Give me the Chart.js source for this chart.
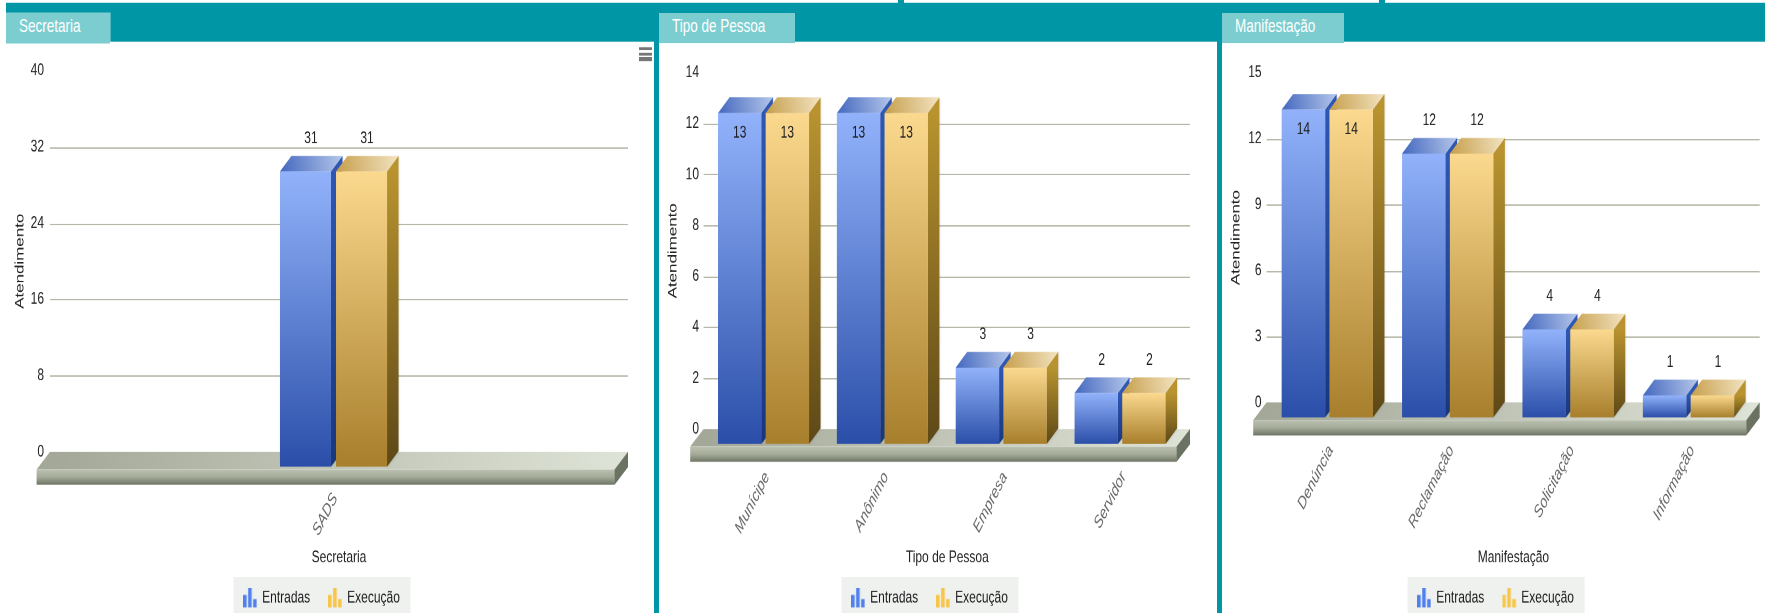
<!DOCTYPE html>
<html>
<head>
<meta charset="utf-8">
<title>Atendimentos</title>
<script src="https://cdn.jsdelivr.net/npm/chart.js@4"></script>
<style>
  html, body { margin:0; padding:0; background:#fff; overflow:hidden; }
  /* the original screenshot is stretched vertically, so the whole page is too */
  #root { position:absolute; left:0; top:0; width:1765px; height:441px; overflow:hidden;
          background:#fff; transform:scaleY(1.39); transform-origin:0 0;
          font-family:"Liberation Sans",Arial,sans-serif; }
  .teal { position:absolute; background:#0096a6; }
  .tab  { position:absolute; top:8.6px; height:22.4px; line-height:20px; background:#7ccdd0;
          color:#fff; font-size:13.5px; box-sizing:border-box; padding-left:13px; z-index:2; }
  canvas { position:absolute; top:30px; }
  .menu { position:absolute; left:639px; width:12.5px; height:2.2px; background:#777; z-index:2; }
</style>
</head>
<body>
<div id="root">
  <div class="teal" style="left:6px;top:2px;width:1759px;height:27.5px"></div>
  <div class="teal" style="left:898px;top:0;width:6px;height:3px"></div>
  <div class="teal" style="left:1379px;top:0;width:6px;height:3px"></div>
  <div class="teal" style="left:654px;top:29px;width:5px;height:412px"></div>
  <div class="teal" style="left:1217px;top:29px;width:5px;height:412px"></div>
  <div class="tab" style="left:6px;width:104px">Secretaria</div>
  <div class="tab" style="left:659px;width:136px">Tipo de Pessoa</div>
  <div class="tab" style="left:1222px;width:122px">Manifestação</div>
  <div class="menu" style="top:33.6px"></div>
  <div class="menu" style="top:37.5px"></div>
  <div class="menu" style="top:41.4px"></div>
  <canvas id="c1" style="left:0"></canvas>
  <canvas id="c2" style="left:659px"></canvas>
  <canvas id="c3" style="left:1222px"></canvas>
</div>

<script>
// ── DADOS ─────────────────────────────────────────────
var secretariaCats     = ['SADS'];
var secretariaEntradas = [31];
var secretariaExecucao = [31];
var secretariaMax = 40, secretariaStep = 8;

var pessoaCats     = ['Munícipe', 'Anônimo', 'Empresa', 'Servidor'];
var pessoaEntradas = [13, 13, 3, 2];
var pessoaExecucao = [13, 13, 3, 2];
var pessoaMax = 14, pessoaStep = 2;

var manifestCats     = ['Denúncia', 'Reclamação', 'Solicitação', 'Informação'];
var manifestEntradas = [14, 12, 4, 1];
var manifestExecucao = [14, 12, 4, 1];
var manifestMax = 15, manifestStep = 3;

var seriesNames = ['Entradas', 'Execução'];

// ── ESTILO ────────────────────────────────────────────
var FONT = '"Liberation Sans",Arial,sans-serif';
var COLORS = [
  { front:['#92b3fb','#2b4fa9'], side:['#2f57b4','#1a377c'], top:['#4468bf','#b4c6ea'], icon:'#4f80ee' },
  { front:['#fbd98e','#a87f2c'], side:['#b8932f','#5d4817'], top:['#c79f4c','#f3e4c2'], icon:'#f7c548' }
];
var BAR_DX = -5.5, BAR_DY = 10.8;        // front plane relative to the back plane
var DEPTH_X = 11.5, DEPTH_Y = 11.3;
var FLOOR_DX = 13.4, FLOOR_DY = 12.7, FLOOR_H = 11;
var CANVAS_H = 416.4;

function barIcon(color) {
  var c = document.createElement('canvas');
  c.width = 14; c.height = 14;
  var g = c.getContext('2d');
  g.fillStyle = color;
  g.fillRect(0, 5, 3.5, 9);
  g.fillRect(5, 0, 3.5, 14);
  g.fillRect(10, 8, 3.5, 6);
  return c;
}

function poly(ctx, pts, fill) {
  ctx.beginPath();
  ctx.moveTo(pts[0][0], pts[0][1]);
  for (var i = 1; i < pts.length; i++) ctx.lineTo(pts[i][0], pts[i][1]);
  ctx.closePath();
  ctx.fillStyle = fill;
  ctx.fill();
}

function vGrad(ctx, y0, y1, c0, c1) {
  var g = ctx.createLinearGradient(0, y0, 0, y1);
  g.addColorStop(0, c0); g.addColorStop(1, c1);
  return g;
}

// ── PLUGIN 3D ─────────────────────────────────────────
var bar3d = {
  id: 'bar3d',
  afterLayout: function (chart) {
    chart.legend.left += 8;
    chart.legend.right += 8;
  },
  beforeDraw: function (chart) {
    var ctx = chart.ctx, lg = chart.legend;
    var mid = (lg.left + lg.right) / 2;
    ctx.save();
    ctx.fillStyle = '#eff1ef';
    ctx.fillRect(mid - 88.5, 385, 177, 40);
    ctx.restore();
  },
  beforeDatasetsDraw: function (chart, args, opts) {
    var ctx = chart.ctx, y = chart.scales.y;
    var y0 = y.getPixelForValue(0);
    var L = opts.gridL, R = opts.gridR;
    ctx.save();

    // linhas de grade
    ctx.strokeStyle = '#b7b8a8';
    ctx.lineWidth = 0.9;
    y.ticks.forEach(function (t) {
      if (t.value === 0 || t.value === y.max) return;
      var p = Math.round(y.getPixelForValue(t.value)) + 0.5;
      ctx.beginPath(); ctx.moveTo(L, p); ctx.lineTo(R, p); ctx.stroke();
    });

    // piso
    var fy = y0 + FLOOR_DY, by = fy + FLOOR_H;
    var gt = ctx.createLinearGradient(L, 0, R, 0);
    gt.addColorStop(0, '#a3a898'); gt.addColorStop(1, '#dfe4d8');
    poly(ctx, [[L, y0], [R, y0], [R - FLOOR_DX, fy], [L - FLOOR_DX, fy]], gt);
    var gf = ctx.createLinearGradient(0, fy, 0, by);
    gf.addColorStop(0, '#bcc2b1'); gf.addColorStop(0.5, '#a5ab98'); gf.addColorStop(1, '#6e7565');
    poly(ctx, [[L - FLOOR_DX, fy], [R - FLOOR_DX, fy], [R - FLOOR_DX, by], [L - FLOOR_DX, by]], gf);
    poly(ctx, [[R - FLOOR_DX, fy], [R, y0], [R, by - FLOOR_DY], [R - FLOOR_DX, by]], '#6a7262');

    // faces lateral e superior (a frente vem do próprio dataset)
    [0, 1].forEach(function (d) {
      chart.getDatasetMeta(d).data.forEach(function (el) {
        var right = el.x + el.width / 2 + BAR_DX, left = el.x - el.width / 2 + BAR_DX;
        var top = el.y + BAR_DY, bot = el.base + BAR_DY;
        ctx.shadowColor = 'rgba(0,0,0,.22)';
        ctx.shadowBlur = 4;
        poly(ctx, [[right, top], [right + DEPTH_X, top - DEPTH_Y], [right + DEPTH_X, bot - DEPTH_Y], [right, bot]],
          vGrad(ctx, top, bot, COLORS[d].side[0], COLORS[d].side[1]));
        ctx.shadowBlur = 0;
        var gTop = ctx.createLinearGradient(left, top, right + DEPTH_X, top - DEPTH_Y);
        gTop.addColorStop(0, COLORS[d].top[0]); gTop.addColorStop(1, COLORS[d].top[1]);
        poly(ctx, [[left, top], [left + DEPTH_X, top - DEPTH_Y], [right + DEPTH_X, top - DEPTH_Y], [right, top]], gTop);
      });
    });
    ctx.restore();
  },
  beforeDatasetDraw: function (chart) {
    chart.ctx.save();
    chart.ctx.translate(BAR_DX, BAR_DY);
  },
  afterDatasetDraw: function (chart) {
    chart.ctx.restore();
  },
  afterDatasetsDraw: function (chart) {
    var ctx = chart.ctx;
    ctx.save();
    ctx.font = '12px ' + FONT;
    ctx.fillStyle = '#1c1c1c';
    ctx.textAlign = 'center';
    ctx.textBaseline = 'middle';
    [0, 1].forEach(function (d) {
      chart.getDatasetMeta(d).data.forEach(function (el, i) {
        var v = chart.data.datasets[d].data[i];
        if (el.y - 13 < chart.chartArea.top + 10) {
          ctx.fillText(v, el.x + BAR_DX, el.y + 25);   // sem espaço: rótulo dentro da barra
        } else {
          ctx.fillText(v, el.x, el.y - 13);
        }
      });
    });
    ctx.restore();
  }
};

// ── GRÁFICOS ──────────────────────────────────────────
function dataset(name, values, idx) {
  return {
    label: name,
    data: values,
    clip: false,
    pointStyle: barIcon(COLORS[idx].icon),
    backgroundColor: function (c) {
      if (!c.chart.chartArea || c.raw === undefined) return COLORS[idx].front[0];
      var sc = c.chart.scales.y;
      return vGrad(c.chart.ctx, sc.getPixelForValue(c.raw), sc.getPixelForValue(0),
        COLORS[idx].front[0], COLORS[idx].front[1]);
    }
  };
}

function makeChart(id, title, cats, entradas, execucao, maxV, step, box) {
  var canvas = document.getElementById(id);
  canvas.width = box.w;
  canvas.height = CANVAS_H;
  return new Chart(canvas, {
    type: 'bar',
    data: {
      labels: cats,
      datasets: [dataset(seriesNames[0], entradas, 0), dataset(seriesNames[1], execucao, 1)]
    },
    plugins: [bar3d],
    options: {
      responsive: false,
      animation: false,
      devicePixelRatio: 2,
      categoryPercentage: box.cat,
      barPercentage: 0.91,
      layout: { padding: { top: box.top, right: box.w - box.right, left: 0, bottom: 0 } },
      plugins: {
        tooltip: { enabled: false },
        bar3d: { gridL: box.gridL, gridR: box.gridR },
        legend: {
          position: 'bottom',
          labels: {
            usePointStyle: true,
            padding: 19,
            color: '#1c1c1c',
            font: { family: FONT, size: 12 }
          }
        }
      },
      scales: {
        x: {
          grid: { display: false, drawTicks: false },
          border: { display: false },
          ticks: {
            autoSkip: false,
            minRotation: 55,
            maxRotation: 55,
            padding: box.xPad,
            labelOffset: box.xShift,
            color: '#666',
            font: { family: FONT, size: 12.5, style: 'italic' }
          },
          title: {
            display: true,
            text: title,
            color: '#222',
            padding: { top: 0, bottom: -3.3 },
            font: { family: FONT, size: 12 }
          },
          afterFit: function (axis) {
            axis.height = CANVAS_H - box.bottom - axis.chart.legend.height;
          }
        },
        y: {
          min: 0,
          max: maxV,
          grid: { display: false, drawTicks: false },
          border: { display: false },
          ticks: {
            stepSize: step,
            padding: box.yPad,
            color: '#222',
            font: { family: FONT, size: 12 }
          },
          title: {
            display: true,
            text: 'Atendimento',
            color: '#222',
            padding: { top: box.titlePad, bottom: 0 },
            font: { family: FONT, size: 12.2 }
          },
          afterFit: function (axis) { axis.width = box.left; }
        }
      }
    }
  });
}

makeChart('c1', 'Secretaria', secretariaCats, secretariaEntradas, secretariaExecucao, secretariaMax, secretariaStep,
  { w: 654, left: 50, right: 628, top: 20.9, bottom: 295.4, gridL: 50, gridR: 628, cat: 0.194, xPad: 27, xShift: -4, yPad: 6, titlePad: 13 });
makeChart('c2', 'Tipo de Pessoa', pessoaCats, pessoaEntradas, pessoaExecucao, pessoaMax, pessoaStep,
  { w: 558, left: 50.6, right: 526, top: 22.2, bottom: 279, gridL: 44.6, gridR: 531, cat: 0.802, xPad: 28, xShift: -2, yPad: 10.6, titlePad: 7 });
makeChart('c3', 'Manifestação', manifestCats, manifestEntradas, manifestExecucao, manifestMax, manifestStep,
  { w: 543, left: 50.6, right: 532.2, top: 22.3, bottom: 259.9, gridL: 44.6, gridR: 537.7, cat: 0.794, xPad: 28, xShift: -2, yPad: 11, titlePad: 7 });
</script>
</body>
</html>
